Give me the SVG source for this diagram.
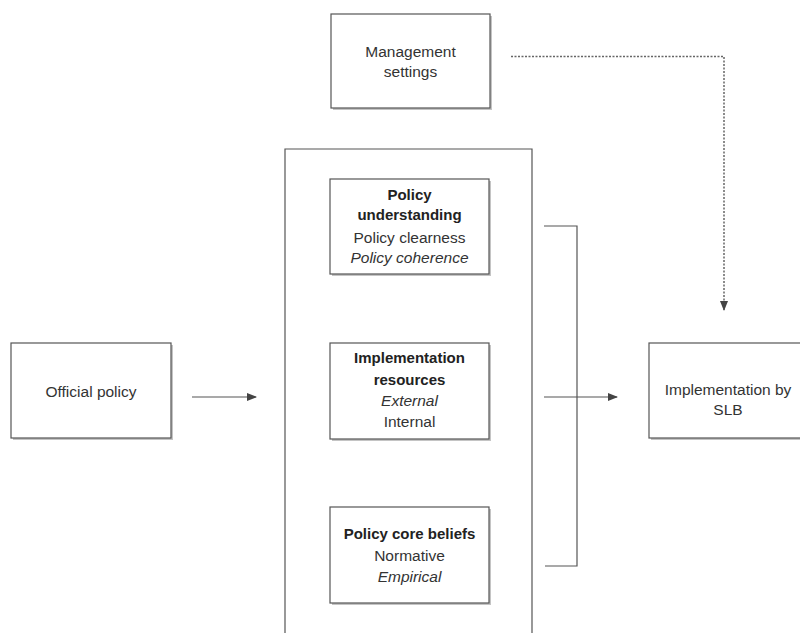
<svg xmlns="http://www.w3.org/2000/svg" width="800" height="633" viewBox="0 0 800 633">
<style>
.box{fill:#fff;stroke:#555;stroke-width:1.2}
.sh{fill:#c4c4c4}
.t{font-family:"Liberation Sans",Arial,sans-serif;font-size:15.5px;fill:#333;text-anchor:middle}
.b{font-weight:bold;fill:#222;font-size:15px}
.i{font-style:italic}
.ln{fill:none;stroke:#555;stroke-width:1.2}
.dash{fill:none;stroke:#666;stroke-width:1.5;stroke-dasharray:2,1.5}
</style>
<defs>
<marker id="ah" markerWidth="10" markerHeight="8" refX="9" refY="4" orient="auto" markerUnits="userSpaceOnUse">
<path d="M0,0 L10,4 L0,8 Z" fill="#444"/>
</marker>
</defs>
<rect width="800" height="633" fill="#fff"/>
<g id="outer">
<path class="ln" d="M285,633 V149 H532 V633"/>
</g>
<g id="management">
<rect class="sh" x="333" y="16" width="159" height="94"/>
<rect class="box" x="331" y="14" width="159" height="94"/>
<text class="t" x="410.5" y="57">Management</text>
<text class="t" x="410.5" y="77">settings</text>
</g>
<g id="understanding">
<rect class="sh" x="332" y="181" width="159" height="95"/>
<rect class="box" x="330" y="179" width="159" height="95"/>
<text class="t b" x="409.5" y="200">Policy</text>
<text class="t b" x="409.5" y="220">understanding</text>
<text class="t" x="409.5" y="243">Policy clearness</text>
<text class="t i" x="409.5" y="263">Policy coherence</text>
</g>
<g id="resources">
<rect class="sh" x="332" y="345" width="159" height="96"/>
<rect class="box" x="330" y="343" width="159" height="96"/>
<text class="t b" x="409.5" y="363">Implementation</text>
<text class="t b" x="409.5" y="385">resources</text>
<text class="t i" x="409.5" y="406">External</text>
<text class="t" x="409.5" y="427">Internal</text>
</g>
<g id="beliefs">
<rect class="sh" x="332" y="509" width="159" height="96"/>
<rect class="box" x="330" y="507" width="159" height="96"/>
<text class="t b" x="409.5" y="539">Policy core beliefs</text>
<text class="t" x="409.5" y="561">Normative</text>
<text class="t i" x="409.5" y="582">Empirical</text>
</g>
<g id="official">
<rect class="sh" x="13" y="345" width="160" height="95"/>
<rect class="box" x="11" y="343" width="160" height="95"/>
<text class="t" x="91" y="397">Official policy</text>
</g>
<g id="slb">
<rect class="sh" x="651" y="345" width="160" height="95"/>
<rect class="box" x="649" y="343" width="160" height="95"/>
<text class="t" x="728" y="395">Implementation by</text>
<text class="t" x="728" y="415">SLB</text>
</g>
<g id="connectors">
<line class="ln" x1="192" y1="397" x2="256" y2="397" marker-end="url(#ah)"/>
<path class="ln" d="M544,226 H577 V566 H545"/>
<line class="ln" x1="544" y1="397" x2="617" y2="397" marker-end="url(#ah)"/>
<path class="dash" d="M511,56.5 H724 V310" marker-end="url(#ah)"/>
</g>
</svg>
